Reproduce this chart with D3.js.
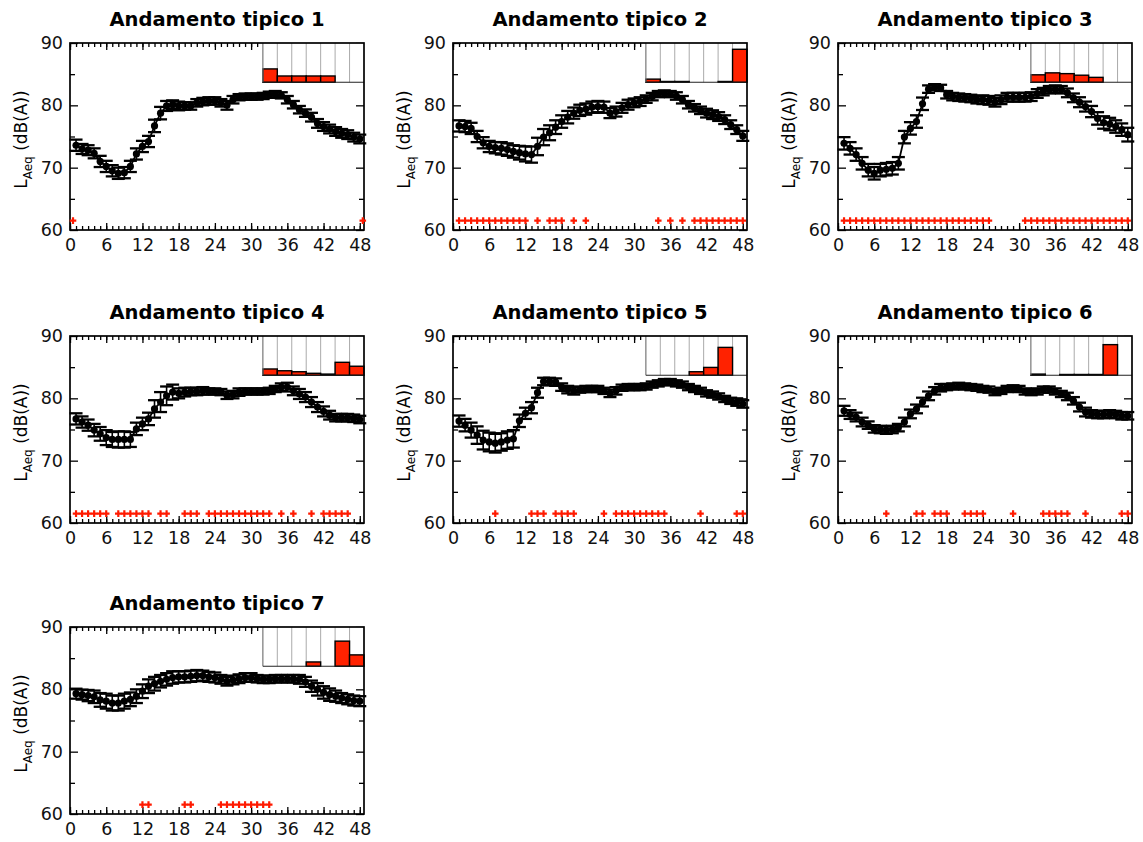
<!DOCTYPE html>
<html>
<head>
<meta charset="utf-8">
<script src="https://cdn.jsdelivr.net/npm/d3@7"></script>
<style>
body { margin: 0; background: #fff; }
svg { display: block; }
text { font-family: "DejaVu Sans", Verdana, sans-serif; fill: #000; }
</style>
</head>
<body>
<svg width="1143" height="842"></svg>
<script>
var svg = d3.select("svg");

// half-hour slots of the day
var slots = d3.range(1, 49);
var titles = ["Andamento tipico 1", "Andamento tipico 2", "Andamento tipico 3", "Andamento tipico 4",
    "Andamento tipico 5", "Andamento tipico 6", "Andamento tipico 7"];
var xMajor = [0, 6, 12, 18, 24, 30, 36, 42, 48];
var yMajor = [60, 70, 80, 90];
var yMinor = [65, 75, 85];
var sigLevel = 61.5;

var leq1 = [73.6, 73.0, 72.8, 72.3, 71.0, 70.2, 69.5, 69.1, 69.2, 70.2, 72.2, 73.4, 74.2, 76.7, 78.75, 79.9,
    80.1, 79.9, 79.9, 79.9, 80.4, 80.6, 80.7, 80.7, 80.4, 80.0, 80.9, 81.3, 81.4, 81.4, 81.4, 81.5,
    81.7, 81.8, 81.6, 80.9, 80.1, 79.3, 78.75, 78.1, 77.1, 76.6, 76.2, 75.8, 75.5, 75.3, 74.9, 74.6];
var leq2 = [76.7, 76.6, 76.3, 75.0, 74.0, 73.4, 73.2, 73.1, 72.9, 72.6, 72.4, 72.2, 72.1, 73.4, 74.9, 75.6,
    76.5, 77.4, 78.1, 78.75, 79.2, 79.4, 79.7, 79.8, 79.7, 78.75, 79.0, 79.6, 80.1, 80.4, 80.6, 81.0,
    81.4, 81.8, 81.9, 81.8, 81.5, 80.9, 80.1, 79.6, 79.2, 78.75, 78.5, 78.2, 77.7, 76.9, 76.1, 75.1];
var leq3 = [73.9, 73.1, 72.1, 70.7, 69.6, 69.1, 69.6, 69.75, 69.9, 70.7, 74.9, 76.3, 77.4, 80.25, 82.6, 82.9,
    82.8, 81.7, 81.4, 81.3, 81.2, 81.1, 80.9, 80.9, 80.8, 80.5, 80.9, 81.3, 81.3, 81.3, 81.3, 81.4,
    81.9, 82.2, 82.5, 82.6, 82.5, 82.0, 81.2, 80.5, 79.8, 79.0, 77.9, 77.25, 77.0, 76.6, 76.1, 75.3];
var leq4 = [76.7, 76.2, 75.7, 74.9, 74.3, 73.7, 73.4, 73.4, 73.4, 73.4, 75.1, 75.9, 76.7, 78.3, 79.4, 80.4,
    81.0, 80.8, 81.0, 81.1, 81.1, 81.2, 81.1, 81.1, 81.0, 80.5, 80.6, 81.0, 81.1, 81.1, 81.1, 81.1,
    81.2, 81.5, 81.8, 81.8, 81.2, 80.7, 80.2, 79.4, 78.6, 77.9, 77.3, 76.9, 76.9, 76.9, 76.8, 76.6];
var leq5 = [76.35, 75.7, 74.9, 74.1, 73.3, 73.0, 72.8, 73.0, 73.3, 73.5, 76.4, 77.6, 78.5, 80.9, 82.7, 82.7,
    82.6, 81.8, 81.4, 81.2, 81.4, 81.5, 81.5, 81.5, 81.2, 80.8, 81.2, 81.7, 81.8, 81.8, 81.8, 81.9,
    82.2, 82.4, 82.6, 82.6, 82.4, 82.2, 81.8, 81.5, 81.2, 80.8, 80.6, 80.3, 79.9, 79.6, 79.4, 79.1];
var leq6 = [78.0, 77.4, 77.0, 76.2, 75.7, 75.1, 75.0, 74.9, 75.0, 75.3, 76.2, 77.5, 78.3, 79.4, 80.4, 81.2,
    81.7, 81.8, 81.9, 82.0, 81.9, 81.8, 81.7, 81.5, 81.4, 81.0, 81.2, 81.5, 81.6, 81.5, 81.1, 81.0,
    81.1, 81.4, 81.4, 81.1, 80.7, 80.3, 79.6, 78.6, 77.8, 77.5, 77.4, 77.4, 77.5, 77.4, 77.2, 77.2];
var leq7 = [79.3, 79.15, 79.0, 78.8, 78.3, 78.1, 77.8, 77.8, 78.1, 78.4, 78.9, 79.7, 80.5, 80.9, 81.3, 81.6,
    81.9, 82.0, 82.0, 82.1, 82.2, 82.2, 82.0, 81.9, 81.6, 81.3, 81.5, 81.7, 81.9, 81.9, 81.7, 81.6,
    81.6, 81.7, 81.7, 81.7, 81.7, 81.6, 81.2, 80.5, 80.0, 79.5, 79.15, 78.9, 78.6, 78.4, 78.2, 78.1];

var err1 = [0.9, 0.8, 0.8, 0.8, 0.9, 0.9, 0.9, 0.9, 0.9, 0.9, 0.9, 0.9, 0.9, 1.0, 1.0, 0.8,
    0.7, 0.7, 0.6, 0.6, 0.6, 0.6, 0.6, 0.6, 0.6, 0.7, 0.6, 0.5, 0.5, 0.5, 0.5, 0.5,
    0.5, 0.5, 0.5, 0.6, 0.6, 0.6, 0.6, 0.7, 0.7, 0.7, 0.7, 0.7, 0.7, 0.7, 0.7, 0.7];
var err2 = [0.9, 0.9, 0.9, 0.9, 0.9, 0.9, 0.9, 1.0, 1.0, 1.0, 1.1, 1.2, 1.3, 1.4, 1.3, 1.2,
    1.1, 1.0, 1.0, 0.9, 0.9, 0.9, 0.9, 0.9, 0.9, 0.8, 0.8, 0.8, 0.8, 0.7, 0.7, 0.6,
    0.6, 0.5, 0.5, 0.5, 0.6, 0.6, 0.6, 0.6, 0.6, 0.7, 0.7, 0.7, 0.7, 0.7, 0.7, 0.8];
var err3 = [1.0, 1.0, 1.0, 1.0, 1.0, 1.0, 1.0, 1.0, 1.0, 1.0, 1.0, 1.0, 1.0, 1.0, 0.6, 0.5,
    0.5, 0.6, 0.6, 0.6, 0.6, 0.6, 0.6, 0.7, 0.7, 0.7, 0.7, 0.7, 0.7, 0.7, 0.7, 0.7,
    0.7, 0.6, 0.6, 0.6, 0.6, 0.7, 0.7, 0.8, 0.8, 0.9, 1.0, 1.0, 1.0, 1.0, 1.0, 1.1];
var err4 = [0.9, 0.9, 0.9, 1.0, 1.1, 1.2, 1.2, 1.3, 1.3, 1.2, 1.0, 1.0, 1.0, 1.4, 1.6, 1.5,
    1.2, 0.8, 0.7, 0.6, 0.6, 0.6, 0.5, 0.5, 0.5, 0.6, 0.6, 0.6, 0.5, 0.5, 0.5, 0.5,
    0.5, 0.5, 0.6, 0.7, 0.7, 0.8, 0.8, 0.8, 0.8, 0.8, 0.7, 0.6, 0.6, 0.6, 0.6, 0.6];
var err5 = [0.9, 1.0, 1.2, 1.4, 1.5, 1.5, 1.5, 1.4, 1.4, 1.4, 1.0, 0.9, 0.9, 0.8, 0.6, 0.6,
    0.6, 0.6, 0.6, 0.6, 0.5, 0.5, 0.5, 0.5, 0.5, 0.6, 0.6, 0.5, 0.5, 0.5, 0.5, 0.5,
    0.5, 0.5, 0.5, 0.5, 0.5, 0.5, 0.5, 0.5, 0.5, 0.5, 0.5, 0.5, 0.5, 0.5, 0.6, 0.6];
var err6 = [0.8, 0.7, 0.7, 0.7, 0.6, 0.6, 0.6, 0.6, 0.6, 0.6, 0.7, 0.7, 0.7, 0.7, 0.7, 0.6,
    0.6, 0.5, 0.5, 0.5, 0.5, 0.5, 0.5, 0.5, 0.5, 0.5, 0.5, 0.5, 0.5, 0.5, 0.5, 0.5,
    0.5, 0.5, 0.5, 0.5, 0.5, 0.6, 0.6, 0.7, 0.7, 0.6, 0.6, 0.6, 0.6, 0.6, 0.6, 0.6];
var err7 = [0.8, 0.8, 0.9, 1.0, 1.1, 1.2, 1.2, 1.2, 1.2, 1.1, 1.1, 1.1, 1.1, 1.1, 1.0, 1.0,
    1.0, 0.9, 0.9, 0.9, 0.9, 0.8, 0.8, 0.8, 0.7, 0.7, 0.7, 0.7, 0.7, 0.7, 0.6, 0.6,
    0.6, 0.6, 0.6, 0.6, 0.6, 0.7, 0.8, 0.9, 1.0, 1.0, 1.0, 0.9, 0.8, 0.8, 0.8, 0.8];

// slots flagged with red markers
var sig1 = [0.5, 48.5];
var sig2 = [1, 2, 3, 4, 5, 6, 7, 8, 9, 10, 11, 12, 14, 16, 17, 18, 20, 22, 34, 36, 38, 40, 41, 42, 43, 44, 45, 46, 47, 48];
var sig3 = [1, 2, 3, 4, 5, 6, 7, 8, 9, 10, 11, 12, 13, 14, 15, 16, 17, 18, 19, 20, 21, 22, 23, 24, 25,
    31, 32, 33, 34, 35, 36, 37, 38, 39, 40, 41, 42, 43, 44, 45, 46, 47, 48];
var sig4 = [1, 2, 3, 4, 5, 6, 8, 9, 10, 11, 12, 13, 15, 16, 19, 20, 21, 23, 24, 25, 26, 27, 28, 29, 30, 31, 32, 33,
    35, 37, 40, 42, 43, 44, 45, 46];
var sig5 = [7, 13, 14, 15, 17, 18, 19, 20, 25, 27, 28, 29, 30, 31, 32, 33, 34, 35, 41, 47, 48];
var sig6 = [8, 13, 14, 16, 17, 18, 21, 22, 23, 24, 29, 34, 35, 36, 37, 38, 41, 47, 48];
var sig7 = [12, 13, 19, 20, 25, 26, 27, 28, 29, 30, 31, 32, 33];

// inset: share per weekday
var days1 = [0.34, 0.16, 0.16, 0.16, 0.16, 0, 0];
var days2 = [0.08, 0.02, 0.02, 0, 0, 0.02, 0.84];
var days3 = [0.19, 0.24, 0.22, 0.18, 0.125, 0, 0];
var days4 = [0.16, 0.115, 0.09, 0.05, 0.03, 0.33, 0.23];
var days5 = [0, 0, 0, 0.09, 0.2, 0.71, 0];
var days6 = [0.03, 0, 0.02, 0.02, 0.02, 0.78, 0];
var days7 = [0, 0, 0, 0.11, 0, 0.64, 0.29];

var leq = [leq1, leq2, leq3, leq4, leq5, leq6, leq7];
var errs = [err1, err2, err3, err4, err5, err6, err7];
var sigs = [sig1, sig2, sig3, sig4, sig5, sig6, sig7];
var days = [days1, days2, days3, days4, days5, days6, days7];

var colX = [70, 453, 838], rowY = [43, 336, 627];
var pw = 294, ph = 187;

titles.forEach(function (t, i) {
    var g = svg.append("g")
        .attr("transform", "translate(" + colX[i % 3] + "," + rowY[Math.floor(i / 3)] + ")");
    drawPanel(g, i);
});

function drawPanel(g, i) {
    var x = d3.scaleLinear().domain([0, 48.7]).range([0, pw]);
    var y = d3.scaleLinear().domain([60, 90]).range([ph, 0]);
    var pts = slots.map(function (s, k) { return { s: s, v: leq[i][k], e: errs[i][k] }; });

    // axes, ticks pointing inward
    function ticks(gg) {
        gg.select(".domain").remove();
        gg.selectAll("line").attr("stroke", "#000").attr("stroke-width", 1.3);
        gg.selectAll("text").style("font-size", "17.5px").style("fill", "#111");
    }
    g.append("g").attr("transform", "translate(0," + ph + ")")
        .call(d3.axisBottom(x).tickValues(slots.concat([0])).tickSize(-4).tickFormat("")).call(ticks);
    g.append("g").attr("transform", "translate(0," + ph + ")")
        .call(d3.axisBottom(x).tickValues(xMajor).tickSize(-7).tickPadding(9)).call(ticks);
    g.append("g")
        .call(d3.axisTop(x).tickValues(slots.concat([0])).tickSize(-4).tickFormat("")).call(ticks);
    g.append("g")
        .call(d3.axisTop(x).tickValues(xMajor).tickSize(-7).tickFormat("")).call(ticks);
    g.append("g")
        .call(d3.axisLeft(y).tickValues(yMajor).tickSize(-8).tickPadding(7)).call(ticks);
    g.append("g")
        .call(d3.axisLeft(y).tickValues(yMinor).tickSize(-5).tickFormat("")).call(ticks);
    g.append("g").attr("transform", "translate(" + pw + ",0)")
        .call(d3.axisRight(y).tickValues(yMajor).tickSize(-8).tickFormat("")).call(ticks);
    g.append("g").attr("transform", "translate(" + pw + ",0)")
        .call(d3.axisRight(y).tickValues(yMinor).tickSize(-5).tickFormat("")).call(ticks);

    // inset with weekday bars
    var iw = pw * 0.344, ih = ph * 0.21;
    var inset = g.append("g").attr("transform", "translate(" + (pw - iw) + ",0)");
    var bx = d3.scaleBand().domain(d3.range(7)).range([0, iw]);
    var by = d3.scaleLinear().domain([0, 1]).range([ih, 0]);
    inset.append("rect").attr("width", iw).attr("height", ih).attr("fill", "#fff");
    inset.selectAll(".sep").data(d3.range(1, 7)).join("line")
        .attr("x1", function (d) { return bx(d); }).attr("x2", function (d) { return bx(d); })
        .attr("y1", 0).attr("y2", ih).attr("stroke", "#aaa").attr("stroke-width", 1);
    inset.selectAll(".bar").data(days[i]).join("rect")
        .attr("x", function (d, k) { return bx(k); })
        .attr("width", bx.bandwidth())
        .attr("y", function (d) { return by(d); })
        .attr("height", function (d) { return ih - by(d); })
        .attr("fill", "#ff2200").attr("stroke", "#000").attr("stroke-width", 1.4)
        .style("display", function (d) { return d > 0 ? null : "none"; });
    inset.append("line").attr("x1", 0).attr("x2", 0).attr("y1", 0).attr("y2", ih)
        .attr("stroke", "#777").attr("stroke-width", 1.2);
    inset.append("line").attr("x1", 0).attr("x2", iw).attr("y1", ih).attr("y2", ih)
        .attr("stroke", "#222").attr("stroke-width", 1.2);

    // frame
    g.append("rect").attr("width", pw).attr("height", ph)
        .attr("fill", "none").attr("stroke", "#000").attr("stroke-width", 1.7);

    // red markers
    g.selectAll(".sig").data(sigs[i]).join("path")
        .attr("d", d3.symbol(d3.symbolCross, 24))
        .attr("transform", function (d) { return "translate(" + x(d) + "," + y(sigLevel) + ")"; })
        .attr("fill", "#ff1a00");

    // mean line with error bars
    g.append("path").datum(pts)
        .attr("d", d3.line().x(function (d) { return x(d.s); }).y(function (d) { return y(d.v); }))
        .attr("fill", "none").attr("stroke", "#000").attr("stroke-width", 1.8);
    var eb = g.append("g").attr("stroke", "#000");
    eb.selectAll(".v").data(pts).join("line")
        .attr("x1", function (d) { return x(d.s); }).attr("x2", function (d) { return x(d.s); })
        .attr("y1", function (d) { return y(d.v - d.e); }).attr("y2", function (d) { return y(d.v + d.e); })
        .attr("stroke-width", 1.6);
    eb.selectAll(".top").data(pts).join("line")
        .attr("x1", function (d) { return x(d.s) - 6.5; }).attr("x2", function (d) { return x(d.s) + 6.5; })
        .attr("y1", function (d) { return y(d.v + d.e); }).attr("y2", function (d) { return y(d.v + d.e); })
        .attr("stroke-width", 2.3);
    eb.selectAll(".bot").data(pts).join("line")
        .attr("x1", function (d) { return x(d.s) - 6.5; }).attr("x2", function (d) { return x(d.s) + 6.5; })
        .attr("y1", function (d) { return y(d.v - d.e); }).attr("y2", function (d) { return y(d.v - d.e); })
        .attr("stroke-width", 2.3);
    g.selectAll(".pt").data(pts).join("circle")
        .attr("cx", function (d) { return x(d.s); }).attr("cy", function (d) { return y(d.v); })
        .attr("r", 3.6).attr("fill", "#000");

    // title and y label
    g.append("text").attr("x", pw / 2).attr("y", -17).attr("text-anchor", "middle")
        .style("font-size", "19.5px").style("font-weight", "bold").text(titles[i]);
    var lab = g.append("text").attr("text-anchor", "middle")
        .attr("transform", "translate(-43," + (ph / 2 + 3) + ") rotate(-90)")
        .style("font-size", "17px");
    lab.append("tspan").text("L");
    lab.append("tspan").attr("dy", 5).style("font-size", "12px").text("Aeq");
    lab.append("tspan").attr("dy", -5).text(" (dB(A))");
}
</script>
</body>
</html>
